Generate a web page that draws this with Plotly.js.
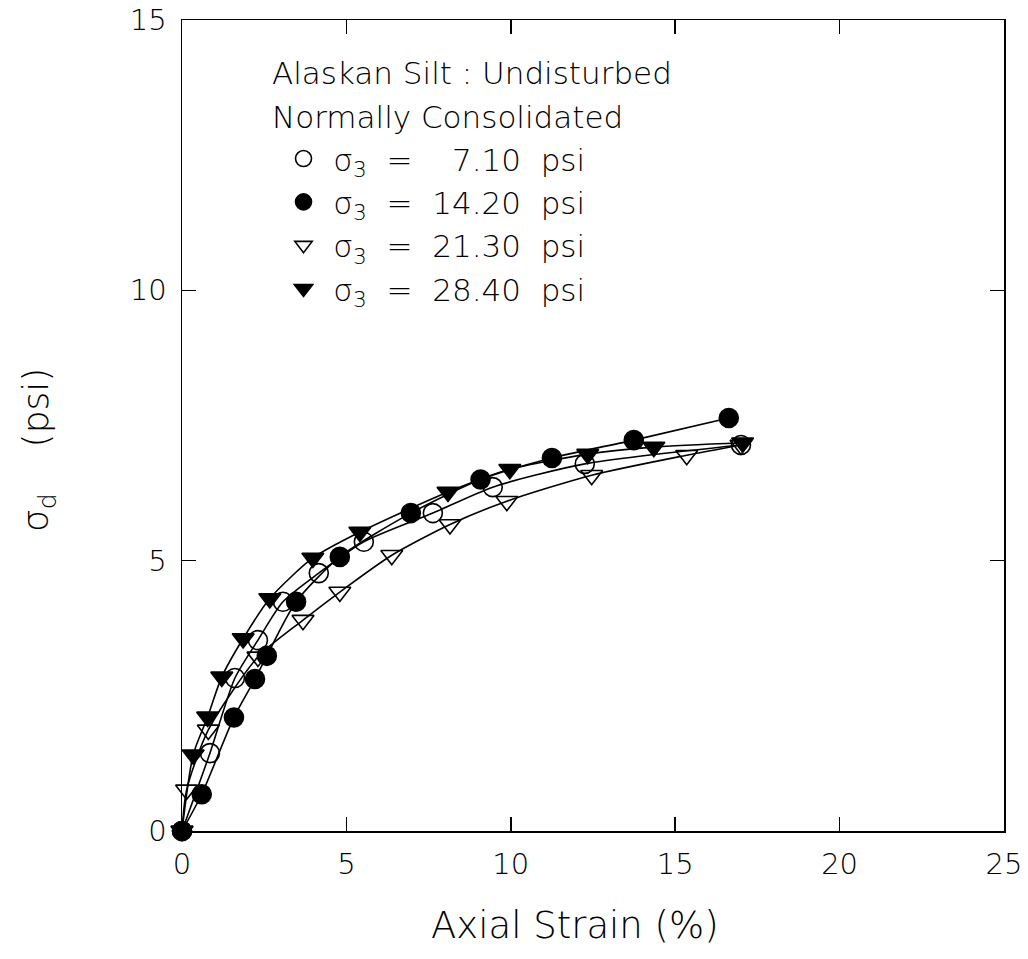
<!DOCTYPE html>
<html>
<head>
<meta charset="utf-8">
<script src="https://cdn.plot.ly/plotly-3.0.1.min.js"></script>
<style>html,body{margin:0;padding:0;background:#fff;}#chart{width:1028px;height:959px;}</style>
</head>
<body>
<div id="chart"></div>
<script>
// Series: sigma3 = 7.10 psi (open circles)
const strain_710 = [0, 0.85, 1.61, 2.31, 3.07, 4.16, 5.53, 7.63, 9.45, 12.25, 17.0];
const dev_710    = [0, 1.44, 2.83, 3.53, 4.24, 4.77, 5.35, 5.88, 6.36, 6.79, 7.14];
// Series: sigma3 = 14.20 psi (filled circles)
const strain_1420 = [0, 0.6, 1.58, 2.22, 2.58, 3.47, 4.8, 6.96, 9.08, 11.25, 13.74, 16.63];
const dev_1420    = [0, 0.68, 2.1, 2.81, 3.24, 4.24, 5.07, 5.88, 6.5, 6.9, 7.23, 7.64];
// Series: sigma3 = 21.30 psi (open triangles)
const strain_2130 = [0, 0.14, 0.8, 2.31, 3.68, 4.8, 6.38, 8.15, 9.88, 12.46, 15.35, 17.0];
const dev_2130    = [0, 0.76, 1.87, 3.22, 3.9, 4.42, 5.1, 5.67, 6.1, 6.58, 6.95, 7.14];
// Series: sigma3 = 28.40 psi (filled triangles)
const strain_2840 = [0, 0.34, 0.78, 1.21, 1.86, 2.67, 3.98, 5.41, 8.09, 9.97, 12.34, 14.35, 17.05];
const dev_2840    = [0, 1.41, 2.11, 2.85, 3.56, 4.3, 5.05, 5.53, 6.27, 6.69, 6.97, 7.1, 7.18];

const NB = '\u00a0';
const sigma3Values = ['\u00a0\u00a07.10', '14.20', '21.30', '28.40'];
const seriesNames = sigma3Values.map(v => NB + 'σ<sub>3</sub>' + NB + NB + '=' + NB + NB + v + NB + NB + 'psi');
const titleLine1 = 'Alaskan Silt : Undisturbed';
const titleLine2 = 'Normally Consolidated';
const xTitle = 'Axial Strain (%)';
const yTitle = 'σ<sub>d</sub>' + NB + NB + NB + NB + '(psi)';
const xTicks = [0, 5, 10, 15, 20, 25];
const yTicks = [0, 5, 10, 15];

const FONT = '"DejaVu Sans", "Open Sans", sans-serif';
const W = 200;
const symbols = ['circle-open', 'circle', 'triangle-down-open', 'triangle-down'];
const xs = [strain_710, strain_1420, strain_2130, strain_2840];
const ys = [dev_710, dev_1420, dev_2130, dev_2840];

const traces = [];
for (let i = 0; i < 4; i++) {
  traces.push({
    x: xs[i], y: ys[i], type: 'scatter', mode: 'lines+markers',
    line: {color: '#000', width: 1.6, shape: 'spline', smoothing: 0.7},
    marker: {symbol: symbols[i], size: 19, color: '#000', line: {color: '#000', width: 1.6}},
    showlegend: false, cliponaxis: false, hoverinfo: 'skip'
  });
}
for (let i = 0; i < 4; i++) {
  traces.push({
    x: [null], y: [null], type: 'scatter', mode: 'markers', name: seriesNames[i],
    marker: {symbol: symbols[i], size: i === 2 ? 15 : 20, color: '#000', line: {color: '#000', width: 1.6}},
    showlegend: true
  });
}

const txt = (size) => ({family: FONT, size: size, color: '#000', weight: W});

const layout = {
  width: 1028, height: 959,
  margin: {l: 182, r: 24, t: 20, b: 128},
  paper_bgcolor: '#fff', plot_bgcolor: '#fff',
  font: txt(28),
  showlegend: true,
  legend: {
    x: 0.1235, y: 0.862, xanchor: 'left', yanchor: 'top',
    bgcolor: 'rgba(0,0,0,0)', borderwidth: 0,
    font: txt(31), tracegroupgap: 0, itemwidth: 30
  },
  annotations: [
    {text: titleLine1, xref: 'paper', yref: 'paper', x: (270 - 182) / 822, y: (831 - 73) / 811,
     xanchor: 'left', yanchor: 'middle', showarrow: false, font: txt(31)},
    {text: titleLine2, xref: 'paper', yref: 'paper', x: (270 - 182) / 822, y: (831 - 117) / 811,
     xanchor: 'left', yanchor: 'middle', showarrow: false, font: txt(31)},
    {text: xTitle, xref: 'paper', yref: 'paper', x: (575 - 182) / 822, y: (831 - 925) / 811,
     xanchor: 'center', yanchor: 'middle', showarrow: false, font: txt(37)},
    {text: yTitle, xref: 'paper', yref: 'paper', x: (38 - 182) / 822, y: (831 - 450) / 811,
     xanchor: 'center', yanchor: 'middle', showarrow: false, textangle: -90, font: txt(36)}
  ],
  xaxis: {
    range: [0, 25], tickvals: xTicks, ticktext: xTicks.map(String),
    ticks: 'inside', ticklen: 14, tickwidth: 1.5, tickcolor: '#000',
    showline: true, linecolor: '#000', linewidth: 1.5, mirror: 'ticks',
    showgrid: false, zeroline: false, ticklabelstandoff: 7,
    tickfont: txt(29)
  },
  yaxis: {
    range: [0, 15.0001], tickvals: yTicks, ticktext: yTicks.map(String),
    ticks: 'inside', ticklen: 14, tickwidth: 1.5, tickcolor: '#000',
    showline: true, linecolor: '#000', linewidth: 1.5, mirror: 'ticks',
    showgrid: false, zeroline: false, ticklabelstandoff: 8,
    tickfont: txt(29)
  }
};

Plotly.newPlot('chart', traces, layout, {displayModeBar: false, staticPlot: true});
</script>
</body>
</html>
